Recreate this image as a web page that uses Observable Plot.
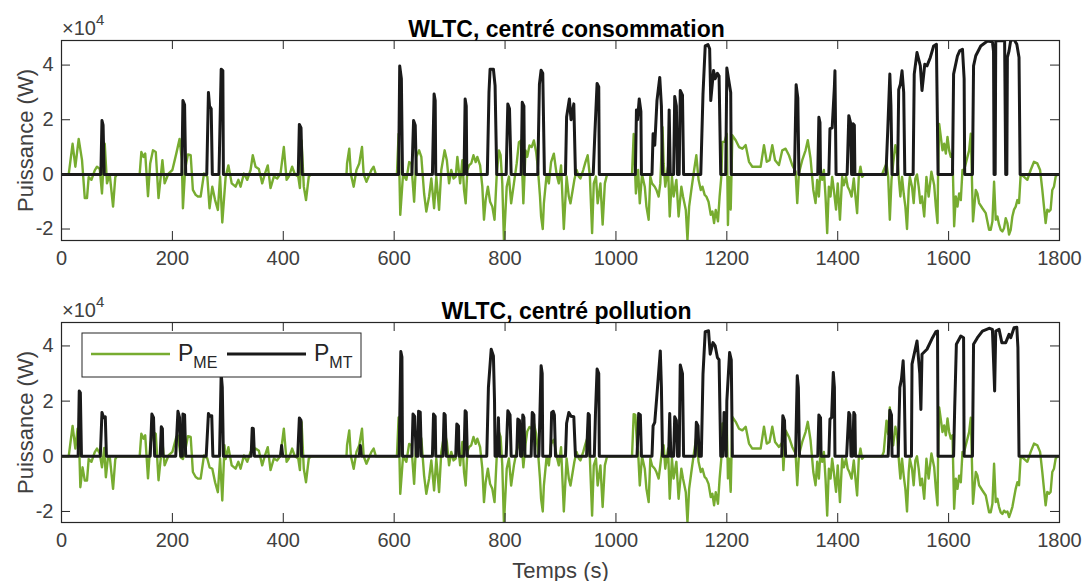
<!DOCTYPE html>
<html><head><meta charset="utf-8">
<script src="https://cdn.jsdelivr.net/npm/d3@7"></script>
<script src="https://cdn.jsdelivr.net/npm/@observablehq/plot@0.6"></script>
<style>
body{margin:0;background:#fff;}
#chart{position:relative;width:1084px;height:581px;font-family:"Liberation Sans",Arial,Helvetica,sans-serif;}
#chart svg{display:block;overflow:visible;}
</style></head><body><div id="chart"></div>
<script>
// ---- DATA (time s, power in 1e4 W) ----
const xTicks = [0,200,400,600,800,1000,1200,1400,1600,1800];
const yTicks = [-2,0,2,4];
const titles = ["WLTC, centré consommation", "WLTC, centré pollution"];
const seriesNames = ["ME", "MT"];

const pME_conso = [[0,0],[13,0],[20,1.12],[25,0.28],[31,1.3],[37,0.52],[42,-0.87],[46,-0.87],[49,-0.1],[54,-0.2],[60,0.15],[64,0.28],[69,0.2],[73,-0.7],[78,1.12],[82,-0.33],[87,0],[93,-1.18],[97,-0.1],[100,0],
[141,0],[144,0.82],[148,0.64],[151,0.76],[156,-0.8],[160,0.4],[165,0.88],[170,0.82],[175,-0.87],[182,0.52],[186,-0.33],[193,0.03],[200,0.16],[207,0.76],[213,1.3],[217,0.52],[219,-1.24],[223,0.2],[228,0.73],[233,0.7],[237,-0.57],[242,-0.75],[246,-0.81],[251,-0.81],[257,0.03],[263,-0.08],[267,-1.24],[272,-0.45],[277,-0.94],[282,-1.3],[286,-0.08],[290,-1.76],[296,-0.1],[301,0.33],[307,-0.33],[314,-0.45],[319,-0.2],[323,-0.45],[329,0.03],[335,-0.2],[341,0.16],[345,0.7],[350,0.28],[356,0.2],[362,-0.33],[367,0.03],[372,0.33],[377,-0.5],[383,-0.08],[389,-0.15],[395,0.03],[401,1.0],[406,-0.2],[410,-0.08],[416,0.28],[421,0],[427,-0.08],[430,-0.5],[433,1.24],[437,-0.45],[441,-0.94],[446,-0.08],[450,0],
[514,0],[515,0.4],[519,0.94],[522,0],[527,-0.45],[532,0.16],[537,0.4],[542,1.0],[545,0],[550,-0.27],[554,-0.08],[559,0.16],[563,0.28],[567,0],
[605,0],[608,1.48],[611,-1.48],[616,0],[622,-0.2],[627,0.45],[631,0.4],[636,-1.0],[640,0.64],[645,0.88],[649,0.64],[654,-0.7],[658,-1.36],[663,-0.81],[667,-0.15],[672,-1.24],[676,-0.08],[681,-1.3],[685,0.16],[691,0.88],[695,0.52],[699,-0.33],[703,0.16],[707,-0.15],[711,-0.08],[714,0.64],[719,-0.33],[723,0.52],[726,-0.57],[729,-1.06],[732,0.16],[735,0.33],[739,0.4],[743,0.7],[747,0.45],[750,0.64],[755,0.33],[759,-0.45],[762,-1.66],[765,-0.94],[769,-0.45],[773,-1.0],[777,-1.18],[781,-1.66],[785,0],[789,0.88],[792,0.7],[795,-0.33],[798,-2.45],[803,-0.45],[807,-0.08],[811,-1.06],[816,-0.33],[821,0.4],[825,1.18],[829,1.24],[833,-1.06],[837,0.88],[840,0.64],[844,1.06],[848,1.0],[852,1.24],[856,0.82],[859,0.28],[863,-0.81],[865,-1.54],[868,-2.0],[870,-1.06],[875,0],[879,-0.33],[883,0.45],[888,0.76],[893,0],[897,-0.33],[901,0.33],[906,-2.0],[911,-0.08],[915,-0.81],[918,-1.06],[922,-0.57],[925,-0.2],[929,0.16],[933,-0.08],[936,-0.15],[941,0.16],[945,0.45],[949,0.7],[953,-0.08],[957,-2.15],[960,-0.33],[964,-0.08],[967,-1.06],[972,-0.33],[976,-1.84],[980,-0.33],[984,0],
[1029,0],[1032,1.48],[1036,-0.7],[1040,0.16],[1043,-1.06],[1047,0],[1052,-0.45],[1055,-1.18],[1059,-1.66],[1062,-0.08],[1065,-0.33],[1070,-0.45],[1073,-0.57],[1077,-0.81],[1080,-0.33],[1084,1.73],[1086,0.4],[1089,-0.45],[1094,0.28],[1097,-1.54],[1101,-0.08],[1104,-0.81],[1109,-0.2],[1113,-1.54],[1118,-0.45],[1121,-0.81],[1126,-1.3],[1129,-2.4],[1132,-1.18],[1136,-0.57],[1141,0.16],[1145,0.7],[1149,-0.2],[1153,-0.57],[1156,-0.45],[1160,-0.75],[1163,-0.81],[1167,-1.0],[1171,-1.48],[1174,-1.36],[1177,-1.78],[1180,-1.3],[1184,-1.72],[1187,-0.81],[1190,-0.09],[1192,1.19],[1196,1.19],[1200,1.49],[1202,-1.85],[1204,-0.09],[1207,-1.29],[1210,1.43],[1216,1.25],[1222,1.0],[1228,0.94],[1234,1.07],[1240,0.46],[1246,0.28],[1255,0.28],[1261,0.28],[1267,1.07],[1272,0.46],[1277,0.52],[1282,1.07],[1287,0.52],[1294,0.34],[1300,0.88],[1306,0.94],[1312,0.7],[1318,0.34],[1324,0.1],[1327,-1.05],[1330,0.04],[1336,0.52],[1342,0.88],[1346,1.25],[1351,0.58],[1356,-0.57],[1360,-1.05],[1363,-0.2],[1366,-0.81],[1369,0.22],[1372,-0.2],[1375,0.16],[1378,-0.81],[1381,-2.15],[1384,-0.45],[1387,-0.81],[1390,-0.09],[1393,-0.57],[1397,-1.29],[1400,-0.33],[1404,-1.66],[1408,-0.09],[1411,-0.4],[1415,-0.09],[1418,-0.45],[1421,-0.57],[1425,-0.81],[1429,-0.15],[1432,-0.81],[1435,-1.42],[1438,-0.09],[1441,0.28],[1444,-0.09],[1448,0],
[1480,0],[1483,0.16],[1488,0.4],[1491,-0.09],[1494,-1.66],[1497,-0.2],[1500,0.4],[1504,1.07],[1507,0.76],[1511,-0.33],[1513,-0.81],[1516,-0.09],[1519,-0.7],[1522,-1.18],[1525,-2.0],[1528,-0.57],[1530,-0.09],[1534,-0.45],[1537,-1.05],[1540,-0.15],[1543,0],[1546,-0.45],[1549,-1.05],[1552,-0.81],[1556,-1.54],[1560,-0.09],[1564,-0.81],[1569,0.1],[1574,-0.4],[1577,-1.18],[1580,-1.78],[1581,0],[1583,1.85],[1589,0.88],[1592,1.12],[1595,0.76],[1598,1.37],[1601,0.88],[1604,0.64],[1607,0.76],[1610,-1.9],[1613,-0.81],[1616,-1.18],[1619,-0.7],[1622,-0.94],[1625,0.16],[1628,0.16],[1631,0.4],[1634,0.64],[1637,0.88],[1640,1.49],[1644,-1.72],[1649,-0.57],[1652,-0.7],[1655,-1.05],[1661,-1.24],[1667,-1.42],[1673,-2.03],[1676,-2.03],[1679,-1.72],[1682,-0.27],[1685,-1.66],[1688,-1.54],[1691,-1.84],[1694,-2.03],[1697,-2.09],[1700,-1.97],[1703,-1.6],[1706,-1.78],[1709,-2.2],[1712,-2.03],[1715,-1.54],[1718,-1.29],[1721,-1.18],[1724,-0.94],[1727,-1.05],[1730,0],[1736,-0.09],[1742,-0.2],[1748,0.16],[1754,0.46],[1760,0.4],[1765,0.16],[1769,-0.57],[1772,-1.18],[1775,-1.78],[1778,-1.29],[1781,-1.36],[1784,-1.29],[1787,-0.57],[1790,-0.45],[1793,-0.09],[1796,0],[1800,0]];

const pMT_conso = [[0,0],[71,0],[73,1.97],[75,1.8],[77,0],[217,0],[219,2.7],[222,2.55],[224,0],[262,0],[265,3.0],[267,2.5],[270,2.4],[272,0],[284,0],[288,3.85],[291,3.8],[292,0],[427,0],[429,1.83],[432,1.7],[434,0],
[608,0],[610,3.97],[613,3.5],[615,0],[632,0],[635,1.97],[638,1.8],[640,0],[669,0],[672,2.94],[674,2.7],[675,0],[726,0],[728,2.76],[730,2.5],[731,0],[768,0],[771,3.0],[773,3.85],[779,3.85],[782,3.25],[785,0],[802,0],[805,2.58],[808,2.4],[811,0],[829,0],[831,2.64],[834,2.5],[835,0],[859,0],[862,3.3],[865,3.81],[868,3.7],[871,0],
[909,0],[911,2.1],[916,2.76],[919,2.0],[924,2.58],[927,0],[959,0],[962,1.5],[966,3.33],[969,3.2],[970,0],[1035,0],[1037,2.36],[1039,2.0],[1042,2.76],[1045,2.3],[1046,0],[1065,0],[1067,1.49],[1070,1.07],[1074,2.7],[1079,3.55],[1082,2.5],[1084,0],[1094,0],[1096,2.36],[1098,0],[1104,0],[1106,2.85],[1109,2.5],[1111,0],[1114,0],[1116,3.07],[1120,2.9],[1122,0],
[1153,0],[1157,2.94],[1161,4.7],[1166,4.75],[1169,4.6],[1171,2.7],[1176,3.8],[1179,3.5],[1183,3.7],[1186,3.6],[1189,0],[1198,0],[1200,3.89],[1203,3.5],[1207,3.0],[1208,0],[1322,0],[1325,3.28],[1328,2.8],[1330,0],
[1364,0],[1366,2.09],[1368,1.9],[1369,0],[1384,0],[1386,1.67],[1390,1.7],[1394,3.2],[1395,3.79],[1397,0],[1417,0],[1420,2.15],[1423,1.9],[1425,0],[1427,0],[1428,1.85],[1430,1.8],[1431,0],
[1487,0],[1490,1.5],[1494,3.67],[1496,2.5],[1498,0],[1508,0],[1510,3.1],[1513,3.3],[1516,3.79],[1519,3.0],[1521,0],[1536,0],[1538,3.67],[1543,4.46],[1549,3.97],[1552,3.07],[1557,4.03],[1561,3.97],[1567,4.28],[1573,4.7],[1578,4.76],[1581,0],
[1607,0],[1609,3.67],[1616,4.34],[1620,4.52],[1625,4.58],[1628,3.5],[1629,0],[1643,0],[1645,3.97],[1649,4.34],[1658,4.7],[1670,4.88],[1679,4.85],[1681,4.5],[1682,0],[1684,0],[1685,4.88],[1694,4.9],[1701,4.88],[1703,0],[1705,0],[1706,4.28],[1709,4.52],[1712,4.9],[1718,4.94],[1723,4.76],[1727,4.28],[1729,0],[1800,0]];

const pME_pollu = [[0,0],[13,0],[20,1.1],[25,0.28],[29,1.0],[32,0.3],[34,-1.12],[38,-0.4],[42,-0.88],[46,-0.88],[49,-0.1],[54,-0.2],[60,0.15],[64,0.28],[69,0.1],[73,-0.4],[77,0.3],[80,-0.76],[84,0],[87,0],[93,-1.18],[97,-0.1],[100,0],
[141,0],[144,0.82],[148,0.64],[151,0.76],[156,-0.8],[160,0.4],[165,0.88],[170,0.82],[175,-0.87],[182,0.52],[186,-0.33],[193,0.03],[200,0.16],[207,0.7],[210,0.75],[215,-0.04],[219,-0.1],[223,0.2],[228,0.73],[233,0.7],[237,-0.57],[242,-0.75],[246,-0.81],[251,-0.81],[257,0.03],[263,-0.08],[267,-0.4],[272,-0.45],[277,-0.94],[282,-1.3],[286,-0.08],[290,-1.6],[294,0.4],[296,-0.1],[301,0.33],[307,-0.33],[314,-0.45],[319,-0.2],[323,-0.45],[329,0.03],[335,-0.2],[341,0.16],[345,0.2],[350,0.28],[356,0.2],[362,-0.33],[367,0.03],[372,0.33],[377,-0.5],[383,-0.08],[389,-0.15],[395,0.03],[401,1.0],[406,-0.2],[410,-0.08],[416,0.28],[421,0],[427,-0.08],[430,-0.5],[433,1.24],[437,-0.45],[441,-0.94],[446,-0.08],[450,0],
[514,0],[515,0.4],[519,0.94],[522,0],[527,-0.45],[532,0.16],[537,0.4],[542,1.0],[545,0],[550,-0.27],[554,-0.08],[559,0.16],[563,0.28],[567,0],
[605,0],[608,1.41],[611,-1.36],[616,0],[622,-0.2],[627,0.45],[631,0.4],[636,-1.0],[640,0.64],[645,0.88],[649,0.64],[654,-0.7],[658,-1.36],[663,-0.81],[667,-0.15],[672,-1.24],[676,-0.08],[681,-1.3],[685,0.16],[691,0.88],[695,0.52],[699,-0.33],[703,0.16],[707,-0.15],[711,-0.08],[714,0.64],[719,-0.33],[723,0.52],[726,-0.57],[729,-1.06],[732,0.16],[735,0.33],[739,0.4],[743,0.7],[747,0.45],[750,0.64],[755,0.33],[759,-0.45],[762,-1.66],[765,-0.94],[769,-0.45],[773,-1.0],[777,-1.18],[781,-1.66],[785,0],[789,0.88],[792,0.7],[795,-0.33],[798,-2.45],[803,-0.45],[807,-0.08],[811,-1.06],[816,-0.33],[821,0.2],[825,0.45],[829,0.7],[833,-0.4],[837,0.45],[840,0.9],[844,1.06],[848,1.0],[852,1.2],[856,0.82],[859,0.28],[863,-0.81],[865,-1.54],[868,-2.0],[870,-1.06],[875,0],[879,-0.33],[883,0.45],[888,0.6],[893,0],[897,-0.33],[901,0.33],[906,-2.0],[911,-0.08],[915,-0.81],[918,-1.06],[922,-0.57],[925,-0.2],[929,0.16],[933,-0.08],[936,-0.15],[941,0.16],[945,0.45],[949,0.7],[953,-0.08],[957,-2.15],[960,-0.33],[964,-0.08],[967,-1.06],[972,-0.33],[976,-1.84],[980,-0.33],[984,0],
[1029,0],[1032,1.53],[1035,1.5],[1038,0.4],[1040,0.16],[1043,-1.06],[1047,0],[1052,-0.45],[1055,-1.18],[1059,-1.66],[1062,-0.08],[1065,-0.33],[1070,-0.45],[1073,-0.57],[1077,-0.81],[1080,-0.33],[1084,0.4],[1086,0.4],[1089,-0.45],[1094,0.28],[1097,-1.54],[1101,-0.08],[1104,-0.81],[1109,-0.2],[1113,-1.54],[1118,-0.45],[1121,-0.81],[1126,-1.3],[1129,-2.4],[1132,-1.18],[1136,-0.57],[1141,0.16],[1145,0.7],[1149,-0.2],[1153,-0.57],[1156,-0.45],[1160,-0.75],[1163,-0.81],[1167,-1.0],[1171,-1.48],[1174,-1.36],[1177,-1.78],[1180,-1.3],[1184,-1.72],[1187,-0.81],[1190,-0.09],[1192,1.19],[1196,1.19],[1200,1.2],[1202,-0.8],[1204,-0.09],[1207,-1.29],[1210,1.43],[1216,1.25],[1222,1.0],[1228,0.94],[1234,1.07],[1240,0.46],[1246,0.28],[1255,0.28],[1261,0.28],[1267,1.07],[1272,0.46],[1277,0.52],[1282,1.07],[1287,0.52],[1294,0.34],[1300,0.5],[1302,-0.5],[1306,0.94],[1312,0.7],[1318,0.34],[1324,0.1],[1327,-1.05],[1330,0.04],[1336,0.52],[1342,0.88],[1346,1.25],[1351,0.58],[1356,-0.57],[1360,-1.05],[1363,-0.2],[1366,-0.81],[1369,0.22],[1372,-0.2],[1375,0.16],[1378,-0.81],[1381,-2.15],[1384,-0.45],[1387,-0.81],[1390,-0.09],[1393,-0.57],[1397,-1.29],[1400,-0.33],[1404,-1.66],[1408,-0.09],[1411,-0.4],[1415,-0.09],[1418,-0.45],[1421,-0.57],[1425,-0.81],[1429,-0.15],[1432,-0.81],[1435,-1.42],[1438,-0.09],[1441,0.28],[1444,-0.09],[1448,0],
[1480,0],[1483,0.16],[1488,1.29],[1491,0.8],[1494,1.77],[1497,0.7],[1500,0.4],[1504,1.07],[1507,0.76],[1511,-0.33],[1513,-0.81],[1516,-0.09],[1519,-0.7],[1522,-1.18],[1525,-2.0],[1528,-0.57],[1530,-0.09],[1534,-0.45],[1537,-1.05],[1540,-0.15],[1543,0],[1546,-0.45],[1549,-1.05],[1552,-0.81],[1556,-1.54],[1560,-0.09],[1564,-0.81],[1569,0.1],[1574,-0.4],[1577,-1.18],[1580,-1.78],[1581,0],[1583,1.77],[1589,0.88],[1592,1.12],[1595,0.76],[1598,1.37],[1601,0.88],[1604,0.64],[1607,0.76],[1610,-1.9],[1613,-0.81],[1616,-1.18],[1619,-0.7],[1622,-0.94],[1625,0.16],[1628,0.16],[1631,0.4],[1634,0.64],[1637,0.88],[1640,1.4],[1644,-1.72],[1649,-0.57],[1652,-0.7],[1655,-1.05],[1661,-1.24],[1667,-1.42],[1673,-2.03],[1676,-2.03],[1679,-1.72],[1682,-0.27],[1685,-1.66],[1688,-1.54],[1691,-1.84],[1694,-2.03],[1697,-2.09],[1700,-1.97],[1703,-2.03],[1706,-2.0],[1709,-2.2],[1712,-2.03],[1715,-1.84],[1718,-1.5],[1721,-1.18],[1724,-0.94],[1727,-1.05],[1730,0],[1736,-0.09],[1742,-0.2],[1748,0.16],[1754,0.46],[1760,0.4],[1765,0.16],[1769,-0.57],[1772,-1.18],[1775,-1.78],[1778,-1.29],[1781,-1.36],[1784,-1.29],[1787,-0.57],[1790,-0.45],[1793,-0.09],[1796,0],[1800,0]];

const pMT_pollu = [[0,0],[30,0],[32,2.37],[34,2.3],[36,0],[70,0],[73,1.59],[76,1.4],[79,1.43],[81,0],[160,0],[163,1.53],[166,1.4],[168,0],[178,0],[180,1.07],[182,1.0],[183,0],[206,0],[210,1.63],[213,1.4],[215,0],[218,0],[219,1.53],[222,1.5],[224,0],[261,0],[265,1.55],[268,1.45],[271,1.47],[273,0],[285,0],[288,3.0],[290,2.5],[292,0],[342,0],[344,1.02],[346,1.0],[348,0],[395,0],[397,0.39],[399,0],[426,0],[429,1.39],[432,1.3],[433,0],
[537,0],[539,0.39],[541,0],[609,0],[612,3.8],[614,3.6],[615,0],[632,0],[634,1.53],[637,1.45],[640,0],[643,0],[644,1.63],[647,1.6],[649,0],[669,0],[671,1.53],[674,1.45],[675,0],[688,0],[690,1.55],[692,1.5],[694,0],[711,0],[713,1.17],[716,1.1],[717,0],[726,0],[728,1.65],[730,1.6],[732,0],[767,0],[770,2.5],[775,3.88],[779,3.64],[781,2.0],[782,0],[786,0],[788,1.4],[790,0],[802,0],[805,1.65],[809,1.5],[811,0],[821,0],[823,1.35],[826,1.3],[828,0],[830,0],[832,1.5],[834,1.4],[836,0],[847,0],[849,1.59],[852,1.5],[854,0],[861,0],[865,3.28],[867,3.0],[868,0],[882,0],[884,1.59],[887,1.63],[889,1.5],[891,0],
[909,0],[911,1.2],[915,1.59],[919,1.45],[924,1.43],[927,0],[947,0],[950,1.55],[952,1.5],[953,0],[961,0],[963,1.5],[966,3.16],[969,3.0],[970,0],[1038,0],[1041,1.55],[1044,1.5],[1046,0],[1065,0],[1067,1.1],[1070,1.23],[1075,2.5],[1080,3.82],[1082,2.5],[1084,0],[1095,0],[1097,1.55],[1099,0],[1104,0],[1106,1.43],[1109,1.3],[1111,0],[1114,0],[1116,3.31],[1120,3.0],[1122,0],[1143,0],[1145,1.23],[1148,1.1],[1150,0],
[1154,0],[1157,2.98],[1161,4.52],[1167,4.55],[1170,3.7],[1175,4.12],[1179,4.0],[1183,3.58],[1186,3.5],[1189,0],[1193,0],[1195,1.59],[1197,1.5],[1199,0],[1200,2.0],[1205,3.76],[1208,3.5],[1210,0],[1299,0],[1301,1.47],[1304,1.3],[1306,0],[1324,0],[1327,2.92],[1329,2.5],[1331,0],
[1364,0],[1366,1.5],[1369,1.4],[1370,0],[1384,0],[1386,1.35],[1389,1.4],[1392,3.04],[1394,2.5],[1395,0],[1416,0],[1420,1.59],[1422,1.5],[1424,0],[1427,0],[1429,1.59],[1431,1.5],[1432,0],
[1491,0],[1494,1.67],[1497,1.5],[1498,0],[1509,0],[1512,2.49],[1515,2.8],[1518,3.46],[1520,2.5],[1522,0],[1533,0],[1534,3.34],[1543,4.18],[1548,3.0],[1550,1.7],[1552,3.7],[1561,3.88],[1571,4.3],[1577,4.52],[1580,4.54],[1581,0],
[1609,0],[1611,1.77],[1614,4.06],[1622,4.36],[1627,4.3],[1628,0],[1643,0],[1645,4.06],[1652,4.3],[1661,4.54],[1673,4.64],[1679,4.6],[1681,3.5],[1683,2.37],[1685,4.54],[1691,4.6],[1696,4.12],[1703,4.12],[1709,4.42],[1712,4.3],[1718,4.66],[1723,4.68],[1725,3.94],[1727,0],[1800,0]];

// ---- STYLE ----
const FONT = '"Liberation Sans", Arial, Helvetica, sans-serif';
const GREEN = "#77ac30", BLACK = "#1a1a1a", AXIS = "#262626", TICKTXT = "#404040";
const W = 1084, ML = 61, MR = 25, TICK = 9;

function panel({title, me, mt, yDomain, height, marginTop, marginBottom, xLabel}) {
  const fh = height - marginTop - marginBottom;
  const fw = W - ML - MR;
  const marks = [
    Plot.line(me, {x: d => d[0], y: d => d[1], stroke: GREEN, strokeWidth: 2.4, clip: true}),
    Plot.line(mt, {x: d => d[0], y: d => d[1], stroke: BLACK, strokeWidth: 3, clip: true}),
    Plot.frame({stroke: AXIS, strokeWidth: 1.2}),
    Plot.tickX(xTicks, {x: d => d, insetTop: fh - TICK, stroke: AXIS}),
    Plot.tickX(xTicks, {x: d => d, insetBottom: fh - TICK, stroke: AXIS}),
    Plot.tickY(yTicks, {y: d => d, insetRight: fw - TICK, stroke: AXIS}),
    Plot.tickY(yTicks, {y: d => d, insetLeft: fw - TICK, stroke: AXIS}),
    Plot.axisX(xTicks, {tickSize: 0, tickPadding: 10, fontSize: 20, fill: TICKTXT, tickFormat: d => String(d), label: null}),
    Plot.axisY(yTicks, {tickSize: 0, tickPadding: 8, fontSize: 20, fill: TICKTXT, tickFormat: d => String(d), label: null}),
    Plot.text([title], {text: d => d, frameAnchor: "top", lineAnchor: "bottom", dy: -4, dx: 6, fontSize: 23, fontWeight: "bold", fill: "#000"}),
    Plot.text(["Puissance (W)"], {text: d => d, frameAnchor: "left", rotate: -90, dx: -36, fontSize: 22, fill: TICKTXT, textAnchor: "middle", lineAnchor: "middle"})
  ];
  if (xLabel) marks.push(Plot.text([xLabel], {text: d => d, frameAnchor: "bottom", dy: 48, fontSize: 22, fill: TICKTXT, lineAnchor: "middle"}));
  const p = Plot.plot({
    width: W, height, marginLeft: ML, marginRight: MR, marginTop, marginBottom,
    x: {domain: [0, 1800]}, y: {domain: yDomain},
    style: {fontFamily: FONT, background: "#fff", overflow: "visible"},
    marks
  });
  // x10^4 exponent label
  const svg = d3.select(p);
  const t = svg.append("text").attr("x", ML + 1).attr("y", marginTop - 5).attr("text-anchor", "start")
    .attr("font-family", FONT).attr("font-size", 20).attr("fill", TICKTXT);
  t.append("tspan").text("×10");
  t.append("tspan").attr("dy", -10).attr("font-size", 15).text("4");
  return p;
}

const root = document.getElementById("chart");
const p1 = panel({title: titles[0], me: pME_conso, mt: pMT_conso, yDomain: [-2.42, 4.9], height: 290, marginTop: 40, marginBottom: 50});
const p2 = panel({title: titles[1], me: pME_pollu, mt: pMT_pollu, yDomain: [-2.40, 4.85], height: 291, marginTop: 32, marginBottom: 59, xLabel: "Temps (s)"});
root.appendChild(p1);
root.appendChild(p2);

// legend (bottom panel)
const lg = d3.select(p2).append("g").attr("font-family", FONT).attr("text-anchor", "start");
lg.append("rect").attr("x", 82).attr("y", 43).attr("width", 279).attr("height", 44)
  .attr("fill", "#fff").attr("stroke", AXIS).attr("stroke-width", 1);
const items = [{name: seriesNames[0], color: GREEN, w: 2.4, x: 91}, {name: seriesNames[1], color: BLACK, w: 3, x: 227}];
items.forEach(it => {
  lg.append("line").attr("x1", it.x).attr("x2", it.x + 79).attr("y1", 64).attr("y2", 64)
    .attr("stroke", it.color).attr("stroke-width", it.w);
  const tx = lg.append("text").attr("x", it.x + 87).attr("y", 71).attr("font-size", 23).attr("fill", AXIS);
  tx.append("tspan").text("P");
  tx.append("tspan").attr("dy", 7).attr("font-size", 16).text(it.name);
});
</script></body></html>
